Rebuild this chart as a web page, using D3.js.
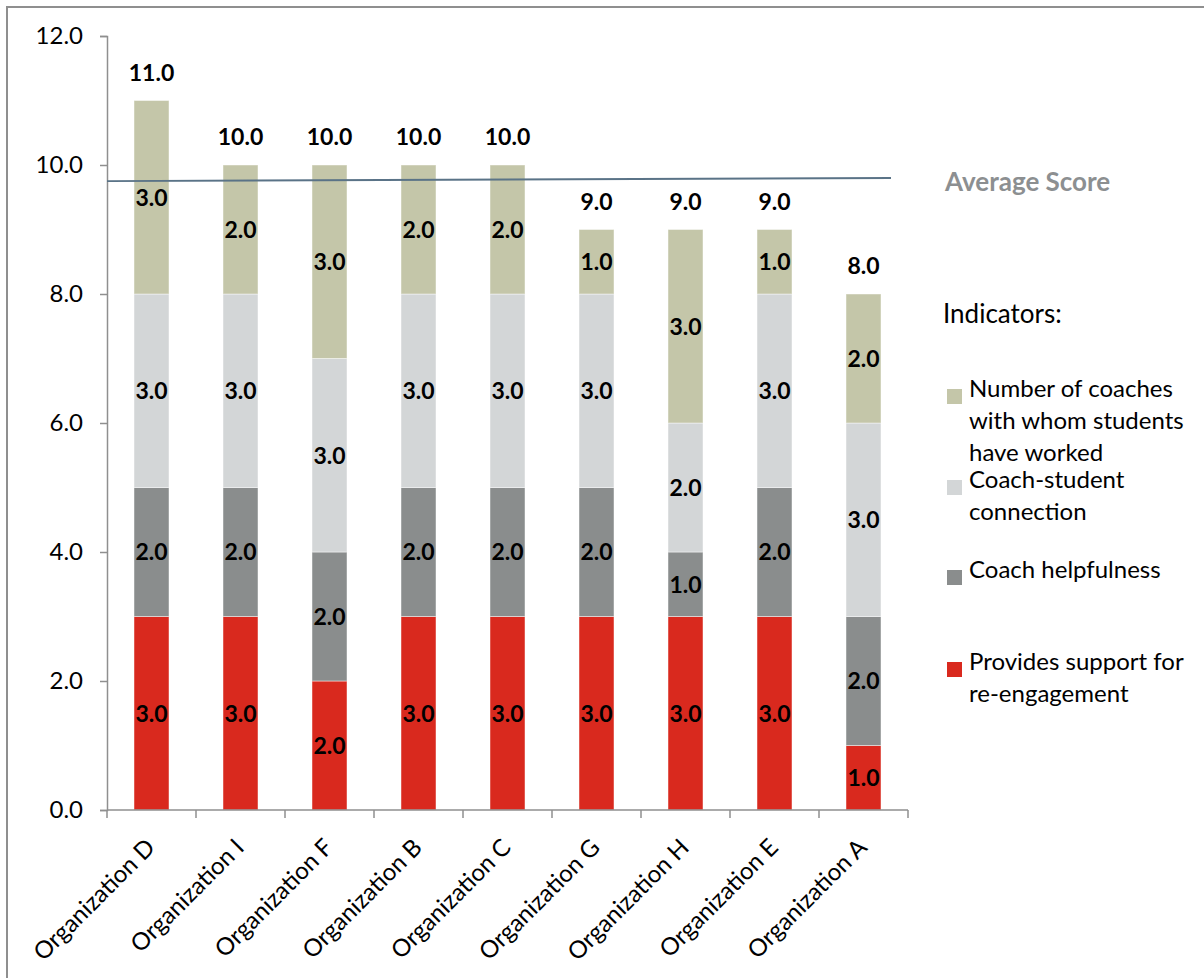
<!DOCTYPE html>
<html>
<head>
<meta charset="utf-8">
<script src="https://cdn.jsdelivr.net/npm/d3@7"></script>
<style>
  html, body { margin: 0; padding: 0; background: #fff; }
  svg { display: block; font-family: Lato, "Open Sans", sans-serif; }
</style>
</head>
<body>
<svg id="chart" width="1204" height="978"></svg>
<script>
// Organizations, in display order
const organizations = ["Organization D", "Organization I", "Organization F", "Organization B",
  "Organization C", "Organization G", "Organization H", "Organization E", "Organization A"];

// Indicator scores per organization (bottom to top of each stack)
const supportReengagement = [3, 3, 2, 3, 3, 3, 3, 3, 1];
const coachHelpfulness    = [2, 2, 2, 2, 2, 2, 1, 2, 2];
const coachConnection     = [3, 3, 3, 3, 3, 3, 2, 3, 3];
const numberOfCoaches     = [3, 2, 3, 2, 2, 1, 3, 1, 2];

// Series names (bottom to top) and legend entries (top to bottom)
const seriesKeys = ["support", "helpfulness", "connection", "coaches"];
const legendLines = [
  ["Number of coaches", "with whom students", "have worked"],
  ["Coach-student", "connection"],
  ["Coach helpfulness"],
  ["Provides support for", "re-engagement"]
];

// Average score reference line: value at the axis and at the far end
const averageLine = [9.75, 9.8];

// Y axis tick values
const yTicks = [0, 2, 4, 6, 8, 10, 12];

const colors = {
  coaches: "#c4c6a9",
  connection: "#d3d6d7",
  helpfulness: "#8a8d8d",
  support: "#d9291e"
};

const rows = organizations.map((name, i) => ({
  name,
  support: supportReengagement[i],
  helpfulness: coachHelpfulness[i],
  connection: coachConnection[i],
  coaches: numberOfCoaches[i]
}));

const svg = d3.select("#chart");

// Outer frame
svg.append("rect")
  .attr("x", 7).attr("y", 7)
  .attr("width", 1400).attr("height", 1400)
  .attr("fill", "none").attr("stroke", "#8f8f8f").attr("stroke-width", 2);

const plotLeft = 107, plotRight = 908, plotTop = 36, plotBottom = 810;

const inner = 0.607;
const x = d3.scaleBand().domain(organizations).range([plotLeft, plotRight])
  .paddingInner(inner).paddingOuter(inner / 2);
const y = d3.scaleLinear().domain([0, 12]).range([plotBottom, plotTop]);

const stack = d3.stack().keys(seriesKeys)(rows);

// Stacked bars
const layers = svg.append("g").selectAll("g")
  .data(stack).join("g")
  .attr("fill", d => colors[d.key]);

layers.selectAll("rect")
  .data(d => d.map(p => ({ p, key: d.key })))
  .join("rect")
  .attr("x", d => x(d.p.data.name))
  .attr("width", x.bandwidth())
  .attr("y", d => y(d.p[1]))
  .attr("height", d => y(d.p[0]) - y(d.p[1]))
  .attr("stroke", "rgba(255,255,255,0.45)")
  .attr("stroke-width", 1);

// Segment value labels
layers.selectAll("text")
  .data(d => d.map(p => ({ p, key: d.key })))
  .join("text")
  .attr("x", d => x(d.p.data.name) + x.bandwidth() / 2)
  .attr("y", d => y((d.p[0] + d.p[1]) / 2))
  .attr("dy", "0.36em")
  .attr("text-anchor", "middle")
  .attr("fill", "#000")
  .attr("font-weight", "bold")
  .attr("font-size", 23)
  .text(d => (d.p[1] - d.p[0]).toFixed(1));

// Total labels above each bar
svg.append("g").selectAll("text")
  .data(rows).join("text")
  .attr("x", d => x(d.name) + x.bandwidth() / 2)
  .attr("y", d => y(d.support + d.helpfulness + d.connection + d.coaches) - 20)
  .attr("text-anchor", "middle")
  .attr("fill", "#000")
  .attr("font-weight", "bold")
  .attr("font-size", 23)
  .text(d => (d.support + d.helpfulness + d.connection + d.coaches).toFixed(1));

// Y axis
const yAxis = svg.append("g")
  .attr("transform", `translate(${plotLeft},0)`)
  .call(d3.axisLeft(y).tickValues(yTicks).tickFormat(d3.format(".1f")).tickSizeOuter(0).tickSize(7).tickPadding(17));
yAxis.select(".domain").attr("stroke", "#8f8f8f").attr("stroke-width", 1.5);
yAxis.selectAll(".tick line").attr("stroke", "#8f8f8f").attr("stroke-width", 1.5);
yAxis.selectAll(".tick text").attr("font-size", 24).attr("fill", "#000").attr("font-family", "Lato, sans-serif");

// X axis with ticks at the category boundaries
const xAxisG = svg.append("g").attr("transform", `translate(0,${plotBottom})`);
xAxisG.append("line")
  .attr("x1", plotLeft).attr("x2", plotRight)
  .attr("stroke", "#8f8f8f").attr("stroke-width", 1.5);
const step = x.step();
const boundaries = organizations.map(o => x(o) - step * inner / 2).concat([plotRight]);
xAxisG.selectAll("line.tk")
  .data(boundaries).join("line").attr("class", "tk")
  .attr("x1", d => d).attr("x2", d => d)
  .attr("y1", 0).attr("y2", 8)
  .attr("stroke", "#8f8f8f").attr("stroke-width", 1.5);

xAxisG.selectAll("text")
  .data(organizations).join("text")
  .attr("transform", d => `translate(${x(d) + x.bandwidth() / 2 - 1},${33}) rotate(-45)`)
  .attr("text-anchor", "end")
  .attr("dy", "0.35em")
  .attr("font-size", 24)
  .attr("fill", "#000")
  .text(d => d);

// Average score line
svg.append("line")
  .attr("x1", plotLeft).attr("x2", 891)
  .attr("y1", y(averageLine[0])).attr("y2", y(averageLine[1]))
  .attr("stroke", "#5a7387").attr("stroke-width", 2);

svg.append("text")
  .attr("x", 945).attr("y", 191)
  .attr("font-size", 26).attr("font-weight", "bold")
  .attr("fill", "#8c8f91")
  .text("Average Score");

// Legend
svg.append("text")
  .attr("x", 943).attr("y", 323)
  .attr("font-size", 26).attr("fill", "#000")
  .text("Indicators:");

const legendKeys = ["coaches", "connection", "helpfulness", "support"];
const legendTops = [397, 488, 578, 670];
const legend = svg.append("g");
legendKeys.forEach((k, i) => {
  legend.append("rect")
    .attr("x", 947).attr("y", legendTops[i] - 8)
    .attr("width", 15).attr("height", 15)
    .attr("fill", colors[k]);
  legend.append("text")
    .attr("x", 969).attr("y", legendTops[i])
    .attr("dy", "0.35em")
    .attr("font-size", 24).attr("fill", "#000")
    .selectAll("tspan")
    .data(legendLines[i]).join("tspan")
    .attr("x", 969)
    .attr("dy", (d, j) => j === 0 ? 0 : 32)
    .text(d => d);
});
</script>
</body>
</html>
